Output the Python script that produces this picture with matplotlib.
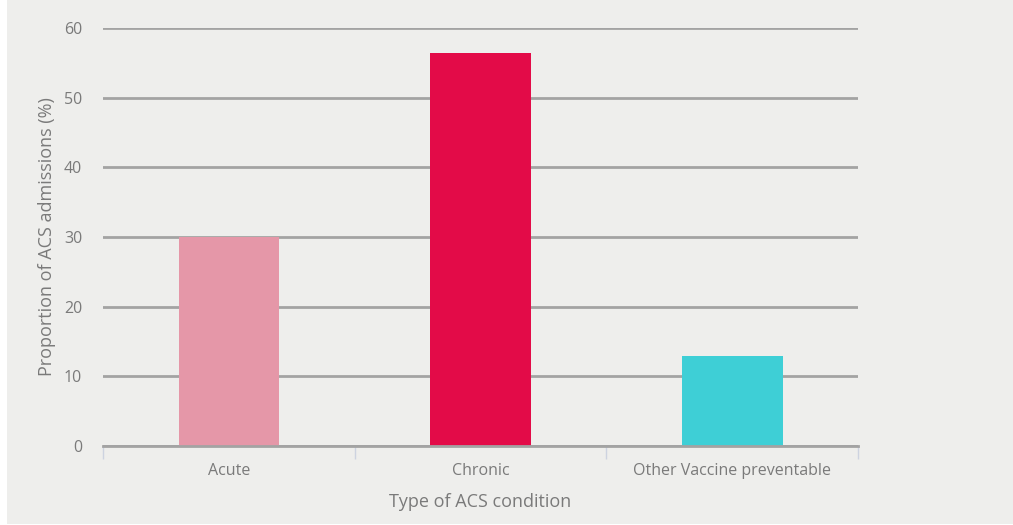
import numpy as np
import matplotlib
matplotlib.use("Agg")
import matplotlib.pyplot as plt

categories = ["Acute", "Chronic", "Other Vaccine preventable"]
values = [30.0, 56.4, 12.9]
colors = ["#e597a8", "#e30b48", "#3ecfd6"]
yticks = [0, 10, 20, 30, 40, 50, 60]

plt.rcParams['font.family'] = ['Open Sans', 'DejaVu Sans']

bg = "#eeeeec"
txt = "#7a7a7a"
fig = plt.figure(figsize=(10.13, 5.25), dpi=100, facecolor="white")
# grey panel, leaving a thin white margin at left and bottom
panel = plt.Rectangle((7 / 1013, 1 / 525), 1 - 7 / 1013, 1 - 1 / 525,
                      transform=fig.transFigure, facecolor=bg,
                      edgecolor="none", zorder=-10)
fig.add_artist(panel)

ax = fig.add_axes([103 / 1013, 1 - 446 / 525, 755 / 1013, (446 - 28) / 525])
ax.set_facecolor(bg)

x = np.arange(len(categories))
ax.bar(x, values, width=0.4, color=colors, zorder=3)

ax.set_xlim(-0.5, len(categories) - 0.5)
ax.set_ylim(0, 60)
ax.set_yticks(yticks)
ax.set_yticklabels([str(v) for v in yticks])
ax.yaxis.grid(True, color="#a3a3a3", linewidth=2, zorder=1)
ax.set_axisbelow(True)

for s in ["top", "right", "left"]:
    ax.spines[s].set_visible(False)
ax.spines["bottom"].set_color("#a3a3a3")
ax.spines["bottom"].set_linewidth(2)
ax.spines["bottom"].set_zorder(4)

# category labels at the centres, tick marks on the band edges
ax.set_xticks(x)
ax.set_xticklabels(categories)
ax.tick_params(axis="x", length=0, pad=12, labelsize=11.5, labelcolor=txt)
ax.set_xticks(np.arange(len(categories) + 1) - 0.5, minor=True)
ax.tick_params(axis="x", which="minor", length=9, width=1, color="#cdd3e0")
ax.tick_params(axis="y", length=0, pad=15, labelsize=11.5, labelcolor=txt)

ax.set_xlabel("Type of ACS condition", fontsize=13, color=txt, labelpad=10)
ax.set_ylabel("Proportion of ACS admissions (%)", fontsize=13, color=txt, labelpad=6)

fig.savefig("out.png", dpi=100, facecolor=fig.get_facecolor())
